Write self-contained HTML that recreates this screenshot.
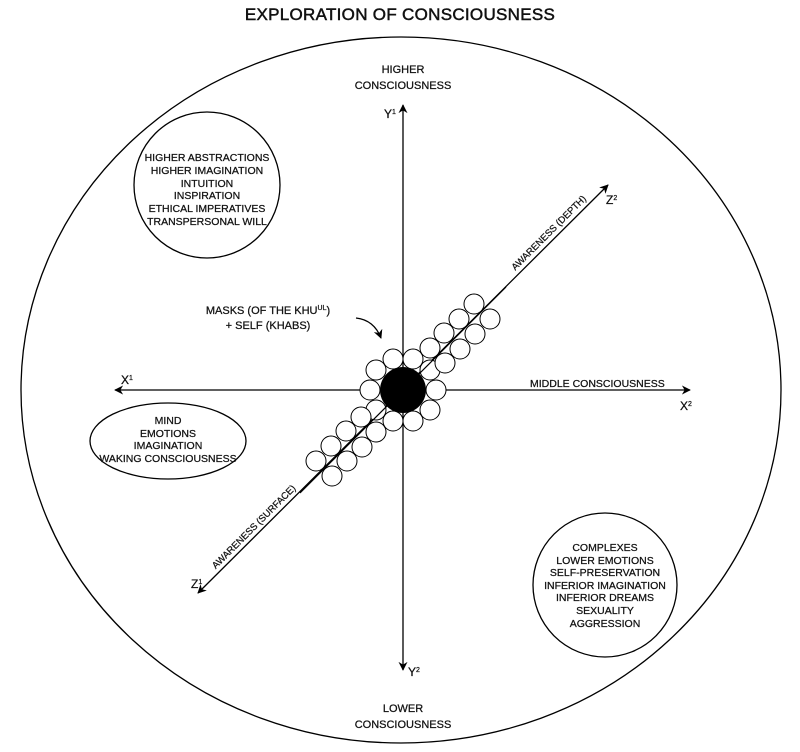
<!DOCTYPE html>
<html><head><meta charset="utf-8"><style>
html,body{margin:0;padding:0;background:#fff;}
svg{display:block;}
text{font-family:"Liberation Sans",sans-serif;fill:#111;stroke:#111;stroke-width:0.25;}
</style></head><body>
<svg width="800" height="752" viewBox="0 0 800 752" xmlns="http://www.w3.org/2000/svg">
<defs>
<marker id="ah" viewBox="0 0 10 10" refX="9" refY="5" markerWidth="9" markerHeight="9" orient="auto-start-reverse" markerUnits="userSpaceOnUse">
<path d="M0,0 L10,5 L0,10 L3,5 z" fill="#000"/>
</marker>
</defs>
<text x="400" y="20" font-size="17" text-anchor="middle" letter-spacing="0.3" style="stroke-width:0.5">EXPLORATION OF CONSCIOUSNESS</text>
<ellipse cx="401" cy="390" rx="380" ry="353" fill="none" stroke="#000" stroke-width="1.3"/>

<g font-size="11" text-anchor="middle">
<text x="403" y="73">HIGHER</text>
<text x="403" y="89">CONSCIOUSNESS</text>
<text x="403" y="712">LOWER</text>
<text x="403" y="728">CONSCIOUSNESS</text>
</g>

<line x1="403" y1="670" x2="403" y2="105" stroke="#000" stroke-width="1.3" marker-end="url(#ah)" marker-start="url(#ah)"/>
<line x1="115" y1="390" x2="690" y2="390" stroke="#000" stroke-width="1.3" marker-end="url(#ah)" marker-start="url(#ah)"/>
<line x1="198" y1="593" x2="608" y2="185" stroke="#000" stroke-width="1.3" marker-end="url(#ah)" marker-start="url(#ah)"/>

<g font-size="12">
<text x="384" y="118">Y<tspan font-size="7" dy="-4">1</tspan></text>
<text x="408" y="676">Y<tspan font-size="7" dy="-4">2</tspan></text>
<text x="121" y="384">X<tspan font-size="7" dy="-4">1</tspan></text>
<text x="680" y="410">X<tspan font-size="7" dy="-4">2</tspan></text>
<text x="606" y="204">Z<tspan font-size="7" dy="-4">2</tspan></text>
<text x="191" y="588">Z<tspan font-size="7" dy="-4">1</tspan></text>
</g>
<text x="530" y="387" font-size="10.5">MIDDLE CONSCIOUSNESS</text>
<text x="551" y="235" font-size="9.5" text-anchor="middle" transform="rotate(-45 551 235)">AWARENESS (DEPTH)</text>
<text x="256" y="529" font-size="9.5" text-anchor="middle" transform="rotate(-45 256 529)">AWARENESS (SURFACE)</text>

<g font-size="11" text-anchor="middle">
<text x="268" y="314">MASKS (OF THE KHU<tspan font-size="7" dy="-4">UL</tspan><tspan dy="4">)</tspan></text>
<text x="268" y="329">+ SELF (KHABS)</text>
</g>
<path d="M356,318 Q374,320 381,338" fill="none" stroke="#000" stroke-width="1.3" marker-end="url(#ah)"/>

<g fill="#fff" stroke="#000" stroke-width="1">
<circle cx="436" cy="390" r="10"/><circle cx="430" cy="370" r="10"/><circle cx="413" cy="359" r="10"/><circle cx="393" cy="359" r="10"/><circle cx="376" cy="370" r="10"/>
<circle cx="370" cy="390" r="10"/><circle cx="376" cy="410" r="10"/><circle cx="393" cy="421" r="10"/><circle cx="413" cy="421" r="10"/><circle cx="430" cy="410" r="10"/>
<circle cx="430" cy="348" r="10"/><circle cx="445" cy="363" r="10"/>
<circle cx="444" cy="333" r="10"/><circle cx="460" cy="349" r="10"/>
<circle cx="459" cy="319" r="10"/><circle cx="475" cy="334" r="10"/>
<circle cx="474" cy="304" r="10"/><circle cx="490" cy="319" r="10"/>
<circle cx="376" cy="432" r="10"/><circle cx="361" cy="417" r="10"/>
<circle cx="362" cy="447" r="10"/><circle cx="346" cy="431" r="10"/>
<circle cx="347" cy="461" r="10"/><circle cx="331" cy="446" r="10"/>
<circle cx="332" cy="476" r="10"/><circle cx="316" cy="461" r="10"/>
</g>
<line x1="300" y1="493" x2="506" y2="287" stroke="#000" stroke-width="1.2"/>
<circle cx="403" cy="390" r="23" fill="#000"/>

<circle cx="207" cy="185" r="73" fill="#fff" stroke="#000" stroke-width="1.3"/>
<g font-size="10.5" text-anchor="middle">
<text x="207" y="161">HIGHER ABSTRACTIONS</text>
<text x="207" y="174">HIGHER IMAGINATION</text>
<text x="207" y="187">INTUITION</text>
<text x="207" y="199">INSPIRATION</text>
<text x="207" y="212">ETHICAL IMPERATIVES</text>
<text x="207" y="225">TRANSPERSONAL WILL</text>
</g>
<ellipse cx="168" cy="441" rx="78" ry="38" fill="#fff" stroke="#000" stroke-width="1.3"/>
<g font-size="10.5" text-anchor="middle">
<text x="168" y="424">MIND</text>
<text x="168" y="437">EMOTIONS</text>
<text x="168" y="449">IMAGINATION</text>
<text x="168" y="462">WAKING CONSCIOUSNESS</text>
</g>
<circle cx="605" cy="585" r="72" fill="#fff" stroke="#000" stroke-width="1.3"/>
<g font-size="10.5" text-anchor="middle">
<text x="605" y="551">COMPLEXES</text>
<text x="605" y="564">LOWER EMOTIONS</text>
<text x="605" y="576">SELF-PRESERVATION</text>
<text x="605" y="589">INFERIOR IMAGINATION</text>
<text x="605" y="601">INFERIOR DREAMS</text>
<text x="605" y="614">SEXUALITY</text>
<text x="605" y="627">AGGRESSION</text>
</g>
</svg>
</body></html>
